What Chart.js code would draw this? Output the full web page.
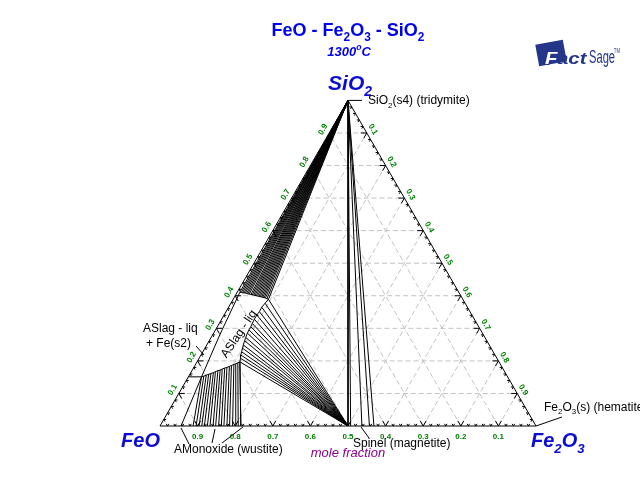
<!DOCTYPE html>
<html>
<head>
<meta charset="utf-8">
<script src="https://cdn.jsdelivr.net/npm/chart.js@4/dist/chart.umd.min.js"></script>
<style>
  html, body { margin: 0; padding: 0; background: #fff; }
  #wrap { width: 640px; height: 504px; }
</style>
</head>
<body>
<div id="wrap"><canvas id="c" width="640" height="504"></canvas></div>
<script>
// All compositions are [Fe2O3, SiO2] mole fractions; FeO is the remainder.
const edgeTicks = [0.1, 0.2, 0.3, 0.4, 0.5, 0.6, 0.7, 0.8, 0.9];
const bottomTickLabels = ['0.9', '0.8', '0.7', '0.6', '0.5', '0.4', '0.3', '0.2', '0.1']; // FeO
const leftTickLabels   = ['0.1', '0.2', '0.3', '0.4', '0.5', '0.6', '0.7', '0.8', '0.9']; // SiO2
const rightTickLabels  = ['0.1', '0.2', '0.3', '0.4', '0.5', '0.6', '0.7', '0.8', '0.9']; // Fe2O3

// Spinel + tridymite tie-lines: spinel end on the FeO-Fe2O3 join
const spinelJoin = [0.500, 0.507, 0.537, 0.557, 0.569];

// Liquid compositions on the slag / (slag + spinel) boundary, tie-lines to magnetite
const slagSpinelLiquid = [
  [0.094, 0.389], [0.091, 0.377], [0.088, 0.365], [0.089, 0.351], [0.087, 0.341],
  [0.087, 0.328], [0.088, 0.315], [0.089, 0.305], [0.089, 0.295], [0.090, 0.285],
  [0.092, 0.272], [0.094, 0.262], [0.097, 0.249], [0.100, 0.239], [0.103, 0.228],
  [0.106, 0.218], [0.110, 0.208], [0.114, 0.197]
];
const magnetite = [0.500, 0.000];

// Liquid compositions on the slag / (slag + tridymite) boundary, tie-lines to SiO2
const slagTridymiteLiquid = [
  [0.007, 0.411], [0.011, 0.410], [0.015, 0.409], [0.019, 0.409], [0.023, 0.408],
  [0.027, 0.407], [0.031, 0.406], [0.035, 0.405], [0.040, 0.404], [0.044, 0.403],
  [0.048, 0.402], [0.052, 0.401], [0.056, 0.400], [0.060, 0.399], [0.064, 0.398],
  [0.068, 0.397], [0.072, 0.396], [0.076, 0.395], [0.080, 0.394], [0.084, 0.393],
  [0.089, 0.391], [0.094, 0.389]
];
const tridymite = [0.000, 1.000];

// Slag + wustite tie-lines: wustite end on the FeO-Fe2O3 join, liquid end on the slag boundary
const wustiteJoin = [0.088, 0.096, 0.104, 0.111, 0.118, 0.126, 0.133, 0.141, 0.148,
                     0.156, 0.163, 0.170, 0.178, 0.185, 0.193, 0.200, 0.208, 0.215];
const wustiteLiquid = [
  [0.035, 0.151], [0.040, 0.153], [0.045, 0.156], [0.050, 0.159], [0.055, 0.161],
  [0.060, 0.164], [0.064, 0.167], [0.069, 0.170], [0.074, 0.172], [0.078, 0.175],
  [0.083, 0.178], [0.088, 0.180], [0.093, 0.183], [0.097, 0.186], [0.102, 0.189],
  [0.106, 0.191], [0.110, 0.194], [0.114, 0.197]
];

// Phase boundaries
const slagFeBoundary     = [[0.035, 0.151], [0.019, 0.280], [0.007, 0.411]];
const wustiteFeBoundary  = [[0.056, 0.000], [0.035, 0.151]];
const threePhaseFeLine   = [[0.000, 0.151], [0.035, 0.151]];
const slagTopBoundary    = slagTridymiteLiquid;
const slagSpinelBoundary = slagSpinelLiquid;
const slagWustiteBoundary = wustiteLiquid;
const wustiteSpinelEdge  = [[0.114, 0.197], [0.215, 0.000]];

const SQ = Math.sqrt(3) / 2;
function toXY(p) { return { x: p[0] + p[1] / 2, y: p[1] * SQ }; }

function lineSet(points, width) {
  return {
    data: points.map(toXY),
    showLine: true,
    borderColor: '#000',
    borderWidth: width || 1,
    pointRadius: 0,
    pointHoverRadius: 0,
    fill: false,
    tension: 0
  };
}

const datasets = [];
spinelJoin.forEach(b => datasets.push(lineSet([tridymite, [b, 0]])));
slagSpinelLiquid.forEach(p => datasets.push(lineSet([p, magnetite])));
slagTridymiteLiquid.forEach(p => datasets.push(lineSet([p, tridymite])));
wustiteJoin.forEach((b, i) => datasets.push(lineSet([[b, 0], wustiteLiquid[i]])));
[slagFeBoundary, wustiteFeBoundary, threePhaseFeLine, slagTopBoundary,
 slagSpinelBoundary, slagWustiteBoundary, wustiteSpinelEdge].forEach(l => datasets.push(lineSet(l)));

const FONT = "Arial, 'Liberation Sans', sans-serif";

// Draws text runs with subscripts / superscripts
function rich(ctx, parts, x, y, size, style, color, align) {
  ctx.save();
  ctx.fillStyle = color;
  ctx.textBaseline = 'alphabetic';
  const widths = parts.map(p => {
    const s = p.sub || p.sup ? size * 0.66 : size;
    ctx.font = style + ' ' + s + 'px ' + FONT;
    return ctx.measureText(p.t).width;
  });
  const total = widths.reduce((a, b) => a + b, 0);
  let cx = align === 'center' ? x - total / 2 : (align === 'right' ? x - total : x);
  parts.forEach((p, i) => {
    const s = p.sub || p.sup ? size * 0.66 : size;
    ctx.font = style + ' ' + s + 'px ' + FONT;
    const dy = p.sub ? size * 0.28 : (p.sup ? -size * 0.45 : 0);
    ctx.fillText(p.t, cx, y + dy);
    cx += widths[i];
  });
  ctx.restore();
}

const ternaryFrame = {
  id: 'ternaryFrame',
  beforeDatasetsDraw(chart) {
    const ctx = chart.ctx, xs = chart.scales.x, ys = chart.scales.y;
    const P = (b, c) => ({ x: xs.getPixelForValue(b + c / 2), y: ys.getPixelForValue(c * SQ) });
    ctx.save();
    // dashed grid
    ctx.strokeStyle = '#c2c2c2';
    ctx.lineWidth = 1;
    ctx.setLineDash([5, 3]);
    edgeTicks.forEach(v => {
      [[P(0, v), P(1 - v, v)], [P(v, 0), P(v, 1 - v)], [P(1 - v, 0), P(0, 1 - v)]].forEach(s => {
        ctx.beginPath(); ctx.moveTo(s[0].x, s[0].y); ctx.lineTo(s[1].x, s[1].y); ctx.stroke();
      });
    });
    ctx.setLineDash([]);
    // frame
    const A = P(0, 0), B = P(1, 0), C = P(0, 1);
    ctx.strokeStyle = '#000';
    ctx.beginPath(); ctx.moveTo(A.x, A.y); ctx.lineTo(B.x, B.y); ctx.lineTo(C.x, C.y); ctx.closePath(); ctx.stroke();
    // ticks every 0.02, longer at every 0.1
    const dirs = {
      bottom: [[0.5, -SQ], [-0.5, -SQ]],
      left: [[1, 0], [0.5, SQ]],
      right: [[-1, 0], [-0.5, SQ]]
    };
    for (let k = 1; k < 50; k++) {
      const v = k / 50, major = k % 5 === 0;
      const len = major ? 6 : 2.5;
      const pts = { bottom: P(v, 0), left: P(0, v), right: P(v, 1 - v) };
      Object.keys(pts).forEach(e => {
        const p = pts[e];
        dirs[e].forEach(d => {
          ctx.beginPath(); ctx.moveTo(p.x, p.y); ctx.lineTo(p.x + d[0] * len, p.y + d[1] * len); ctx.stroke();
        });
      });
    }
    // tick labels
    ctx.fillStyle = '#008000';
    ctx.font = 'bold 8px ' + FONT;
    ctx.textAlign = 'center';
    ctx.textBaseline = 'middle';
    edgeTicks.forEach((v, i) => {
      const pb = P(v, 0);
      ctx.fillText(bottomTickLabels[i], pb.x, pb.y + 11);
      const pl = P(0, v);
      ctx.save(); ctx.translate(pl.x - 0.866 * 7, pl.y - 0.5 * 7); ctx.rotate(-Math.PI / 3);
      ctx.fillText(leftTickLabels[i], 0, 0); ctx.restore();
      const pr = P(v, 1 - v);
      ctx.save(); ctx.translate(pr.x + 0.866 * 7, pr.y - 0.5 * 7); ctx.rotate(Math.PI / 3);
      ctx.fillText(rightTickLabels[i], 0, 0); ctx.restore();
    });
    ctx.restore();
  },
  afterDatasetsDraw(chart) {
    const ctx = chart.ctx, xs = chart.scales.x, ys = chart.scales.y;
    const P = (b, c) => ({ x: xs.getPixelForValue(b + c / 2), y: ys.getPixelForValue(c * SQ) });
    const blue = '#0b0bd6';
    // title
    rich(ctx, [{ t: 'FeO - Fe' }, { t: '2', sub: 1 }, { t: 'O' }, { t: '3', sub: 1 }, { t: ' - SiO' }, { t: '2', sub: 1 }],
      348, 36, 18, 'bold', '#0000f0', 'center');
    rich(ctx, [{ t: '1300' }, { t: 'o', sup: 1 }, { t: 'C' }], 349, 56, 13, 'italic bold', '#0000f0', 'center');
    // corner labels
    const top = P(0, 1), l = P(0, 0), r = P(1, 0);
    rich(ctx, [{ t: 'SiO' }, { t: '2', sub: 1 }], top.x + 2, top.y - 10, 21, 'italic bold', blue, 'center');
    rich(ctx, [{ t: 'FeO' }], l.x, l.y + 21, 20, 'italic bold', blue, 'right');
    rich(ctx, [{ t: 'Fe' }, { t: '2', sub: 1 }, { t: 'O' }, { t: '3', sub: 1 }], r.x - 5, r.y + 21, 20, 'italic bold', blue, 'left');
    rich(ctx, [{ t: 'mole fraction' }], (l.x + r.x) / 2, l.y + 31, 13, 'italic', '#8a008a', 'center');

    // phase labels and leaders
    ctx.save();
    ctx.strokeStyle = '#000'; ctx.lineWidth = 1;
    const seg = (x1, y1, x2, y2) => { ctx.beginPath(); ctx.moveTo(x1, y1); ctx.lineTo(x2, y2); ctx.stroke(); };
    seg(top.x + 1, top.y, top.x + 14, top.y);
    seg(r.x, r.y, r.x + 26, r.y - 9);
    const mg = P(0.5, 0);
    seg(mg.x + 13, mg.y + 1, mg.x + 21, mg.y + 12);
    seg(196, 346, 204, 355);
    seg(189, 444, 181, 428);
    seg(212, 443, 215, 429);
    seg(222, 443, 243, 427);
    ctx.restore();
    rich(ctx, [{ t: 'SiO' }, { t: '2', sub: 1 }, { t: '(s4) (tridymite)' }], top.x + 20, top.y + 4, 12, 'normal', '#000', 'left');
    rich(ctx, [{ t: 'Fe' }, { t: '2', sub: 1 }, { t: 'O' }, { t: '3', sub: 1 }, { t: '(s) (hematite)' }], 544, 411, 12, 'normal', '#000', 'left');
    rich(ctx, [{ t: 'Spinel (magnetite)' }], 353, 447, 12, 'normal', '#000', 'left');
    rich(ctx, [{ t: 'AMonoxide (wustite)' }], 174, 453, 12, 'normal', '#000', 'left');
    rich(ctx, [{ t: 'ASlag - liq' }], 143, 332, 12, 'normal', '#000', 'left');
    rich(ctx, [{ t: '+ Fe(s2)' }], 146, 347, 12, 'normal', '#000', 'left');
    ctx.save();
    ctx.translate(239, 334); ctx.rotate(-56 * Math.PI / 180);
    ctx.fillStyle = '#000'; ctx.font = '12px ' + FONT; ctx.textAlign = 'center'; ctx.textBaseline = 'middle';
    ctx.fillText('ASlag - liq', 0, 0);
    ctx.restore();

    // FactSage mark
    const navy = '#24358a';
    ctx.save();
    ctx.translate(551, 53); ctx.rotate(-0.18);
    ctx.fillStyle = navy;
    ctx.fillRect(-14, -11, 28, 22);
    ctx.restore();
    ctx.save();
    ctx.translate(545, 64); ctx.scale(1.2, 1);
    ctx.font = 'italic 900 17px ' + FONT;
    ctx.lineWidth = 2; ctx.strokeStyle = navy; ctx.fillStyle = '#fff';
    ctx.strokeText('F', 0, 0); ctx.fillText('F', 0, 0);
    ctx.fillStyle = navy;
    ctx.fillText('act', 10, 0);
    ctx.restore();
    ctx.save();
    ctx.translate(589, 63); ctx.scale(0.62, 1);
    ctx.font = '18px ' + FONT; ctx.fillStyle = navy;
    ctx.fillText('Sage', 0, 0);
    ctx.font = '7px ' + FONT; ctx.fillText('TM', 40, -10);
    ctx.restore();
  }
};

new Chart(document.getElementById('c'), {
  type: 'scatter',
  data: { datasets },
  options: {
    responsive: false,
    devicePixelRatio: 1,
    animation: false,
    layout: { padding: { left: 160, right: 104, top: 100.4, bottom: 78 } },
    scales: {
      x: { type: 'linear', min: 0, max: 1, display: false },
      y: { type: 'linear', min: 0, max: SQ, display: false }
    },
    plugins: { legend: { display: false }, tooltip: { enabled: false }, title: { display: false } },
    events: []
  },
  plugins: [ternaryFrame]
});
</script>
</body>
</html>
